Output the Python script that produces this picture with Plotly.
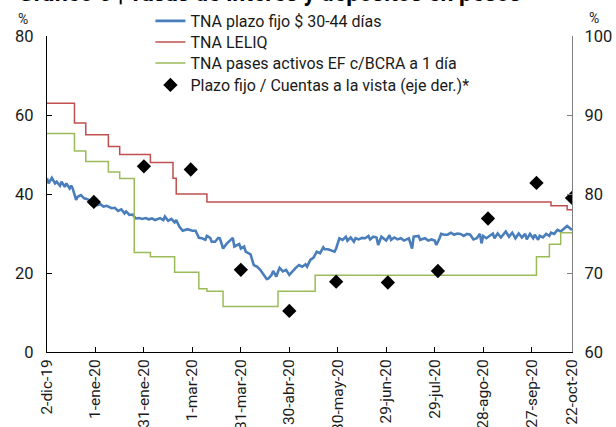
import plotly.graph_objects as go

# ---- Data ----
pf_dates = ["2019-12-02","2019-12-03","2019-12-05","2019-12-07","2019-12-08","2019-12-10","2019-12-11","2019-12-13","2019-12-14","2019-12-16",
            "2019-12-17","2019-12-18","2019-12-20","2019-12-21","2019-12-23","2019-12-25","2019-12-27","2019-12-29","2019-12-31","2020-01-02",
            "2020-01-04","2020-01-06","2020-01-08","2020-01-11","2020-01-13","2020-01-15","2020-01-17","2020-01-19","2020-01-20","2020-01-22",
            "2020-01-24","2020-01-26","2020-01-28","2020-01-30","2020-02-01","2020-02-03","2020-02-05","2020-02-07","2020-02-10","2020-02-12",
            "2020-02-13","2020-02-15","2020-02-17","2020-02-19","2020-02-20","2020-02-22","2020-02-24","2020-02-27","2020-03-01","2020-03-03",
            "2020-03-05","2020-03-07","2020-03-09","2020-03-10","2020-03-12","2020-03-13","2020-03-15","2020-03-17","2020-03-18","2020-03-20",
            "2020-03-22","2020-03-24","2020-03-26","2020-03-27","2020-03-30","2020-03-31","2020-04-02","2020-04-03","2020-04-06","2020-04-08",
            "2020-04-10","2020-04-12","2020-04-14","2020-04-16","2020-04-17","2020-04-19","2020-04-20","2020-04-22","2020-04-23","2020-04-24",
            "2020-04-26","2020-04-28","2020-04-30","2020-05-02","2020-05-04","2020-05-06","2020-05-08","2020-05-10","2020-05-11","2020-05-13",
            "2020-05-15","2020-05-17","2020-05-19","2020-05-21","2020-05-22","2020-05-24","2020-05-26","2020-05-28","2020-05-29","2020-05-31",
            "2020-06-02","2020-06-04","2020-06-05","2020-06-07","2020-06-09","2020-06-10","2020-06-12","2020-06-14","2020-06-16","2020-06-18",
            "2020-06-19","2020-06-21","2020-06-23","2020-06-24","2020-06-26","2020-06-28","2020-06-29","2020-07-01","2020-07-02","2020-07-04",
            "2020-07-06","2020-07-08","2020-07-10","2020-07-13","2020-07-15","2020-07-16","2020-07-19","2020-07-20","2020-07-23","2020-07-25",
            "2020-07-27","2020-07-29","2020-07-30","2020-08-01","2020-08-02","2020-08-04","2020-08-06","2020-08-08","2020-08-10","2020-08-12",
            "2020-08-14","2020-08-16","2020-08-18","2020-08-20","2020-08-22","2020-08-24","2020-08-26","2020-08-27","2020-08-28","2020-08-30",
            "2020-09-01","2020-09-03","2020-09-04","2020-09-06","2020-09-08","2020-09-11","2020-09-13","2020-09-15","2020-09-17","2020-09-19",
            "2020-09-21","2020-09-23","2020-09-24","2020-09-26","2020-09-28","2020-09-29","2020-10-01","2020-10-02","2020-10-04","2020-10-06",
            "2020-10-08","2020-10-09","2020-10-11","2020-10-13","2020-10-15","2020-10-17","2020-10-19","2020-10-20","2020-10-22"]
pf_vals = [44.0,42.7,44.1,42.7,43.1,42.1,43.1,41.8,42.7,41.4,
           42.1,41.3,38.5,39.3,39.7,38.9,38.7,38.2,37.9,37.2,
           37.4,36.8,37.0,36.4,36.5,35.7,36.1,35.1,35.6,34.7,
           34.8,33.8,33.9,33.7,33.9,33.6,33.8,33.4,33.9,33.4,
           34.3,33.2,33.7,32.8,33.4,31.7,30.7,31.1,30.7,30.7,
           28.9,28.8,28.4,29.4,28.9,27.9,27.9,28.9,28.8,26.2,
           27.3,28.1,28.9,26.7,27.3,26.2,26.7,25.4,24.7,22.0,
           21.6,20.8,19.7,18.5,18.6,19.5,20.5,19.1,20.3,21.3,
           20.4,20.8,19.5,20.5,21.3,22.0,21.6,22.2,21.6,23.3,
           23.9,25.4,25.0,26.5,26.0,26.0,25.6,25.4,26.2,28.8,
           28.4,29.2,28.2,29.0,27.9,28.8,28.5,28.9,28.8,29.4,
           28.5,29.2,29.0,27.1,29.2,28.5,28.2,29.6,28.4,29.0,
           28.5,28.8,28.2,28.8,26.2,29.2,29.4,28.4,28.8,28.2,
           28.5,28.2,27.1,28.8,29.9,29.7,29.7,30.2,29.7,30.0,
           29.9,29.4,29.9,29.7,28.5,28.8,29.9,27.5,29.4,28.8,
           29.4,30.0,28.8,30.0,29.0,30.5,29.2,30.2,28.8,30.0,
           29.0,29.9,28.5,29.9,28.8,29.7,28.4,29.4,29.0,29.9,
           29.4,30.2,29.9,30.9,30.5,31.3,31.9,31.6,30.9]

leliq_dates = ["2019-12-02","2019-12-19","2019-12-26","2020-01-09","2020-01-16","2020-02-04",
               "2020-02-18","2020-02-20","2020-03-10","2020-10-09","2020-10-19","2020-10-22"]
leliq_vals = [63, 58, 55, 52, 50, 48, 44, 40, 38, 37, 36, 36]

pases_dates = ["2019-12-02","2019-12-19","2019-12-26","2020-01-09","2020-01-16","2020-01-25",
               "2020-02-04","2020-02-19","2020-03-05","2020-03-10","2020-03-20","2020-04-23",
               "2020-05-16","2020-09-30","2020-10-08","2020-10-15","2020-10-22"]
pases_vals = [55.3, 50.9, 48.2, 45.6, 43.9, 25.2, 24.1, 20.2, 16.0, 15.4, 11.5, 15.4,
              19.4, 24.1, 27.3, 30.2, 30.2]

ratio_dates = ["2019-12-31","2020-01-31","2020-02-29","2020-03-31","2020-04-30","2020-05-29",
               "2020-06-30","2020-07-31","2020-08-31","2020-09-30","2020-10-22"]
ratio_vals = [79.0, 83.5, 83.1, 70.4, 65.2, 68.9, 68.8, 70.25, 76.9, 81.4, 79.5]

tick_dates = ["2019-12-02","2020-01-01","2020-01-31","2020-03-01","2020-03-31","2020-04-30",
              "2020-05-30","2020-06-29","2020-07-29","2020-08-28","2020-09-27","2020-10-22"]
tick_text = ["2-dic-19","1-ene-20","31-ene-20","1-mar-20","31-mar-20","30-abr-20",
             "30-may-20","29-jun-20","29-jul-20","28-ago-20","27-sep-20","22-oct-20"]

FONT = "Roboto"
TXT = "#1a1a1a"

fig = go.Figure()
fig.add_trace(go.Scatter(x=pf_dates, y=pf_vals, mode="lines", name="TNA plazo fijo $ 30-44 días",
                         line=dict(color="#4A7EBB", width=2.6), legend="legend"))
fig.add_trace(go.Scatter(x=leliq_dates, y=leliq_vals, mode="lines", name="TNA LELIQ",
                         line=dict(color="#C0504D", width=1.5, shape="hv"), legend="legend2"))
fig.add_trace(go.Scatter(x=pases_dates, y=pases_vals, mode="lines", name="TNA pases activos EF c/BCRA a 1 día",
                         line=dict(color="#9BBB59", width=1.5, shape="hv"), legend="legend3"))
fig.add_trace(go.Scatter(x=ratio_dates, y=ratio_vals, mode="markers", yaxis="y2",
                         name="Plazo fijo / Cuentas a la vista (eje der.)*",
                         marker=dict(symbol="diamond", size=11, color="black"), legend="legend4"))

def leg(ypos):
    return dict(x=0.197, y=ypos, xanchor="left", yanchor="middle", bgcolor="rgba(0,0,0,0)",
                font=dict(family=FONT, size=16, color=TXT))

fig.update_layout(
    width=616, height=427,
    margin=dict(l=47, r=44, t=36, b=75, autoexpand=False),
    paper_bgcolor="white", plot_bgcolor="white",
    font=dict(family=FONT, size=15, color=TXT),
    showlegend=True,
    legend=leg(1.0475), legend2=leg(0.981), legend3=leg(0.9146), legend4=leg(0.845),
    xaxis=dict(type="date", range=["2019-12-02", "2020-10-22"], tickvals=tick_dates, ticktext=tick_text,
               tickangle=-90, ticks="inside", ticklen=5, tickcolor="black", showgrid=False,
               showline=True, linecolor="black", linewidth=1.2, zeroline=False, automargin=False,
               tickfont=dict(family=FONT, size=15.5, color=TXT)),
    yaxis=dict(range=[0, 80], dtick=20, ticks="inside", ticklen=5, tickcolor="black", showgrid=False,
               showline=True, linecolor="black", linewidth=1.2, zeroline=False, ticklabelstandoff=9,
               automargin=False, tickfont=dict(family=FONT, size=16.5, color=TXT)),
    yaxis2=dict(range=[60, 100], dtick=10, overlaying="y", side="right", ticks="inside", ticklen=5,
                tickcolor="#808080", showgrid=False, showline=True, linecolor="#808080", linewidth=1.2,
                zeroline=False, ticklabelstandoff=8, automargin=False,
                tickfont=dict(family=FONT, size=16.5, color=TXT)),
    annotations=[
        dict(text="Gráfico 5 | Tasas de interés y depósitos en pesos", xref="paper", yref="paper",
             x=-0.059, y=1.136, xanchor="left", yanchor="middle", showarrow=False,
             font=dict(family=FONT, size=23, color="black", weight="bold")),
        dict(text="%", xref="paper", yref="paper", x=-0.046, y=1.055, xanchor="center", yanchor="middle",
             showarrow=False, font=dict(family=FONT, size=14, color=TXT)),
        dict(text="%", xref="paper", yref="paper", x=1.042, y=1.058, xanchor="center", yanchor="middle",
             showarrow=False, font=dict(family=FONT, size=14, color=TXT)),
    ],
)

fig.write_html("out.html", config={"displayModeBar": False},
               post_script="document.body.style.margin='0px';")
